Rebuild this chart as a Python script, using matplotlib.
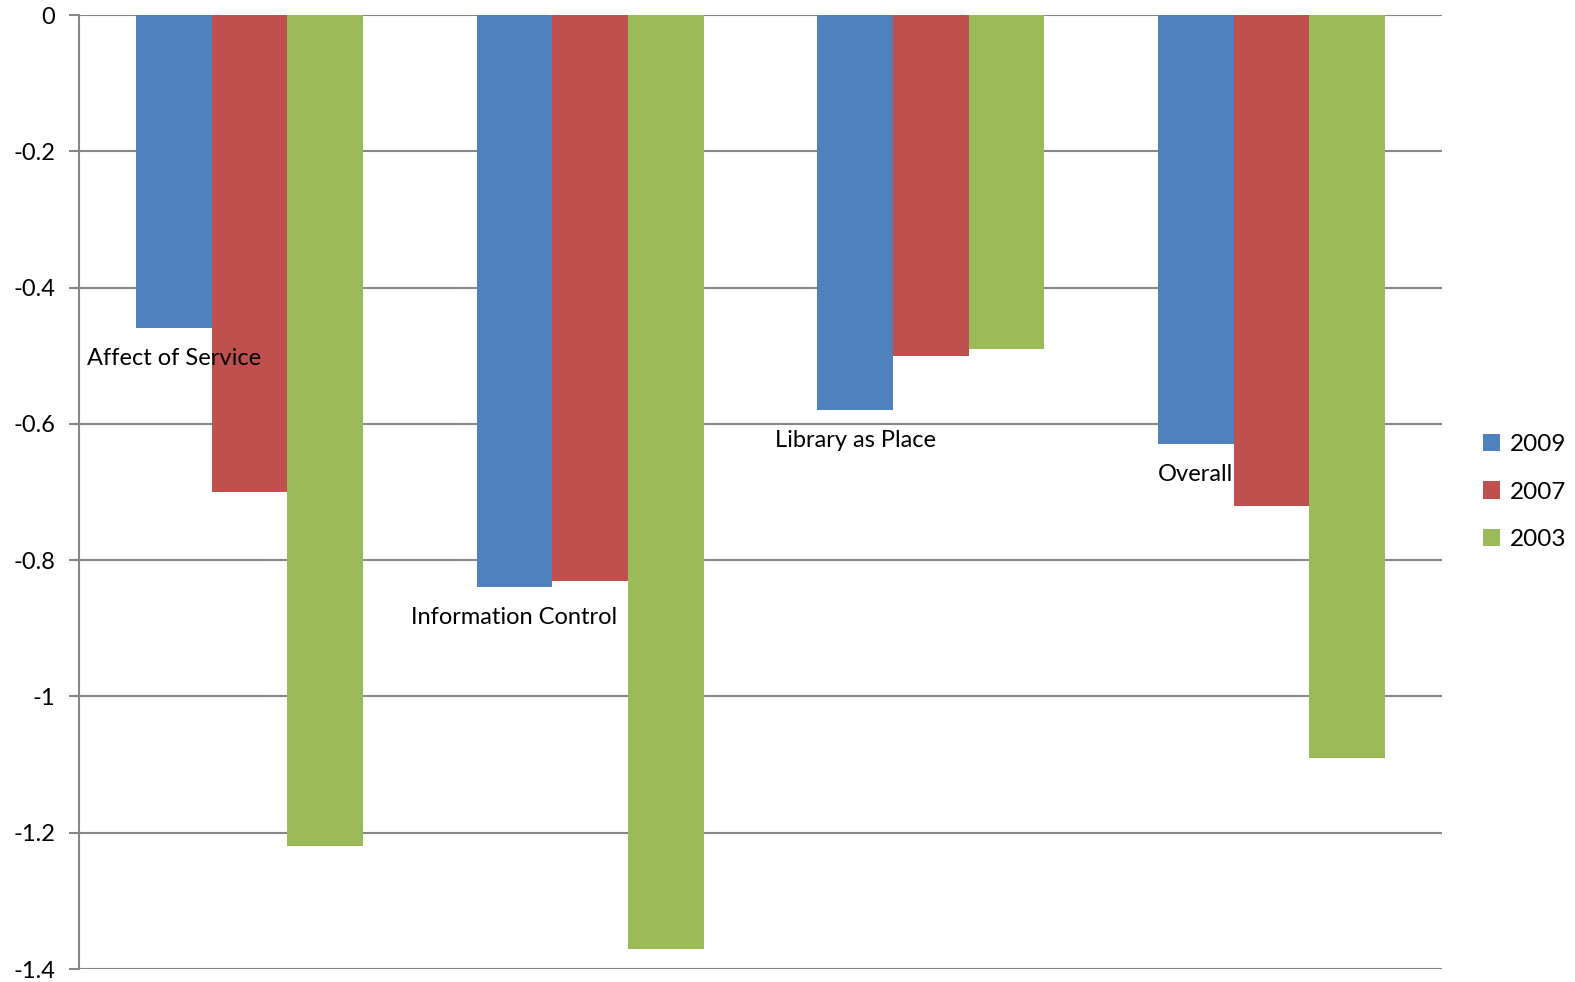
import matplotlib
matplotlib.use("Agg")
import matplotlib.pyplot as plt
import numpy as np

categories = ["Affect of Service", "Information Control", "Library as Place", "Overall"]
series_names = ["2009", "2007", "2003"]
v2009 = [-0.46, -0.84, -0.58, -0.63]
v2007 = [-0.70, -0.83, -0.50, -0.72]
v2003 = [-1.22, -1.37, -0.49, -1.09]
yticks = [0, -0.2, -0.4, -0.6, -0.8, -1.0, -1.2, -1.4]
ytick_labels = ["0", "-0.2", "-0.4", "-0.6", "-0.8", "-1", "-1.2", "-1.4"]
colors = ["#4F81BD", "#C0504D", "#9BBB59"]

plt.rcParams['font.family'] = ['Lato', 'DejaVu Sans']

fig = plt.figure(figsize=(15.75, 9.82), dpi=100)
ax = fig.add_axes([79/1575, 1-969/982, (1442-79)/1575, (969-15)/982])

x = np.arange(len(categories))
w = 1/4.5
for i, (vals, name) in enumerate(zip([v2009, v2007, v2003], series_names)):
    ax.bar(x + (i-1)*w, vals, width=w, color=colors[i], label=name, zorder=3)

ax.set_xlim(-0.5, 3.5)
ax.set_ylim(-1.4, 0)
ax.set_yticks(yticks)
ax.set_yticklabels(ytick_labels, fontsize=17)
ax.set_xticks([])
ax.grid(axis='y', color='#868686', linewidth=1.5, zorder=0)
ax.tick_params(axis='y', length=7, width=1.5, color='#868686', pad=10)
for s in ['top', 'right', 'bottom']:
    ax.spines[s].set_visible(False)
ax.spines['left'].set_color('#868686')
ax.spines['left'].set_linewidth(1.5)

for xi, v, cat in zip(x, v2009, categories):
    ax.annotate(cat, (xi - w, v), xytext=(0, -14), textcoords='offset points',
                ha='center', va='top', fontsize=17, zorder=4)

leg = ax.legend(loc='center left', bbox_to_anchor=(1.014, 0.5), frameon=False,
                fontsize=17.5, handlelength=0.7, handleheight=0.7, labelspacing=1.1,
                handletextpad=0.4)

fig.savefig("out.png", dpi=100)
